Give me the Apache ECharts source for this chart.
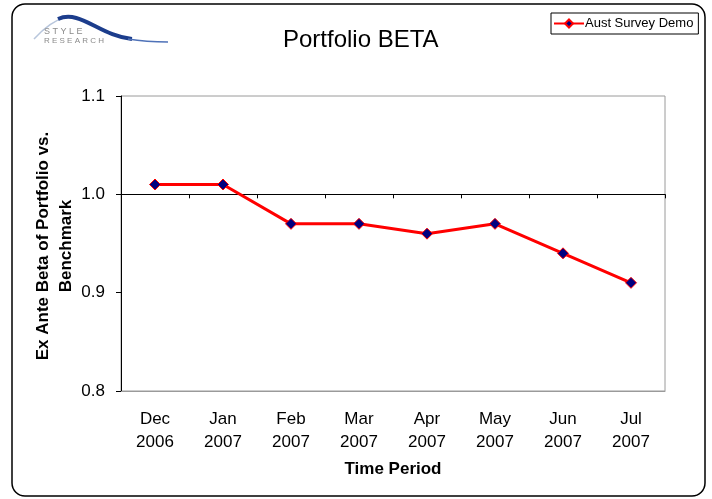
<!DOCTYPE html>
<html>
<head>
    <meta charset="UTF-8">
    <title>Portfolio BETA</title>
    <style>
        html,body{margin:0;padding:0;background:#fff;}
        #chart{width:712px;height:499px;}
    </style>
    <script src="https://cdn.jsdelivr.net/npm/echarts@6/dist/echarts.min.js"></script>
</head>
<body>
<div id="chart"></div>
<script>
    const categories = ['Dec\n2006', 'Jan\n2007', 'Feb\n2007', 'Mar\n2007', 'Apr\n2007', 'May\n2007', 'Jun\n2007', 'Jul\n2007'];
    const betaValues = [1.01, 1.01, 0.97, 0.97, 0.96, 0.97, 0.94, 0.91];
    const yTicks = [0.8, 0.9, 1.0, 1.1];
    const seriesName = 'Aust Survey Demo';

    const font = 'Liberation Sans, Arial, sans-serif';
    const gridTop = 96, gridHeight = 295;
    // the black category line crosses the value axis at 1.0
    const crossOffset = -gridHeight * (1.0 - yTicks[0]) / (yTicks[yTicks.length - 1] - yTicks[0]);

    let myChart = echarts.init(document.getElementById('chart'));
    let option = {
        animation: false,
        textStyle: {fontFamily: font},
        title: {
            text: 'Portfolio BETA',
            left: 278,
            top: 23,
            textStyle: {fontSize: 24, fontWeight: 'normal', color: '#000', fontFamily: font}
        },
        legend: {
            data: [seriesName],
            left: 551,
            top: 13,
            padding: [4, 5, 4, 2],
            borderColor: '#000',
            borderWidth: 1,
            backgroundColor: '#fff',
            borderRadius: 0,
            itemWidth: 30,
            itemHeight: 10,
            itemGap: 4,
            textStyle: {fontSize: 13, color: '#000', fontFamily: font, padding: [0, 0, 0, -4]}
        },
        grid: {
            left: 121,
            width: 544,
            top: gridTop,
            height: gridHeight,
            show: true,
            borderColor: '#9a9a9a',
            borderWidth: 1,
            backgroundColor: '#fff'
        },
        xAxis: [
            {
                type: 'category',
                data: categories,
                position: 'bottom',
                boundaryGap: true,
                axisLine: {show: true, lineStyle: {color: '#9a9a9a', width: 1}},
                axisTick: {show: false},
                axisLabel: {
                    color: '#000',
                    fontSize: 17,
                    lineHeight: 23,
                    margin: 17,
                    interval: 0,
                    fontFamily: font
                },
                name: 'Time Period',
                nameLocation: 'middle',
                nameGap: 70,
                nameTextStyle: {fontSize: 17, fontWeight: 'bold', color: '#000', fontFamily: font}
            },
            {
                type: 'category',
                data: categories,
                position: 'bottom',
                offset: crossOffset,
                boundaryGap: true,
                axisLine: {show: true, onZero: false, lineStyle: {color: '#000', width: 1}},
                axisTick: {show: true, length: 4, interval: 0, lineStyle: {color: '#000'}},
                axisLabel: {show: false}
            }
        ],
        yAxis: {
            type: 'value',
            min: yTicks[0],
            max: yTicks[yTicks.length - 1],
            interval: 0.1,
            axisLine: {show: true, lineStyle: {color: '#000', width: 1}},
            axisTick: {show: true, length: 5, lineStyle: {color: '#000'}},
            splitLine: {show: false},
            axisLabel: {
                color: '#000',
                fontSize: 17,
                margin: 16,
                fontFamily: font,
                formatter: function (v) { return v.toFixed(1); }
            }
        },
        graphic: [
            {
                type: 'rect',
                shape: {x: 12, y: 4, width: 693, height: 492, r: 13},
                style: {fill: 'none', stroke: '#000', lineWidth: 1.5},
                z: -10
            },
            {
                type: 'text',
                x: 55,
                y: 246,
                rotation: Math.PI / 2,
                style: {
                    text: 'Ex Ante Beta of Portfolio vs.\nBenchmark',
                    font: 'bold 17px ' + font,
                    fill: '#000',
                    align: 'center',
                    verticalAlign: 'middle',
                    lineHeight: 23
                }
            },
            // Style Research logo
            {
                type: 'bezierCurve',
                shape: {x1: 34, y1: 39, x2: 66, y2: 17, cpx1: 44, cpy1: 28, cpx2: 55, cpy2: 20},
                style: {stroke: '#b8c6dc', lineWidth: 1.5, fill: 'none'}
            },
            {
                type: 'bezierCurve',
                shape: {x1: 58, y1: 19, x2: 132, y2: 39, cpx1: 80, cpy1: 9, cpx2: 100, cpy2: 36},
                style: {stroke: '#1c3d8c', lineWidth: 4, fill: 'none'}
            },
            {
                type: 'bezierCurve',
                shape: {x1: 128, y1: 39, x2: 168, y2: 42, cpx1: 140, cpy1: 41, cpx2: 155, cpy2: 42},
                style: {stroke: '#4f72b8', lineWidth: 1.5, fill: 'none'}
            },
            {
                type: 'text',
                left: 44,
                top: 27,
                style: {text: 'S T Y L E', font: '9px ' + font, fill: '#8a8a8a'}
            },
            {
                type: 'text',
                left: 44,
                top: 37,
                style: {text: 'R E S E A R C H', font: '8px ' + font, fill: '#8a8a8a'}
            }
        ],
        series: [
            {
                name: seriesName,
                type: 'line',
                xAxisIndex: 0,
                data: betaValues,
                symbol: 'diamond',
                symbolSize: 11,
                showSymbol: true,
                lineStyle: {color: '#ff0000', width: 3},
                itemStyle: {color: '#000080', borderColor: '#ff0000', borderWidth: 1},
                z: 5
            }
        ]
    };
    myChart.setOption(option);
</script>
</body>
</html>
